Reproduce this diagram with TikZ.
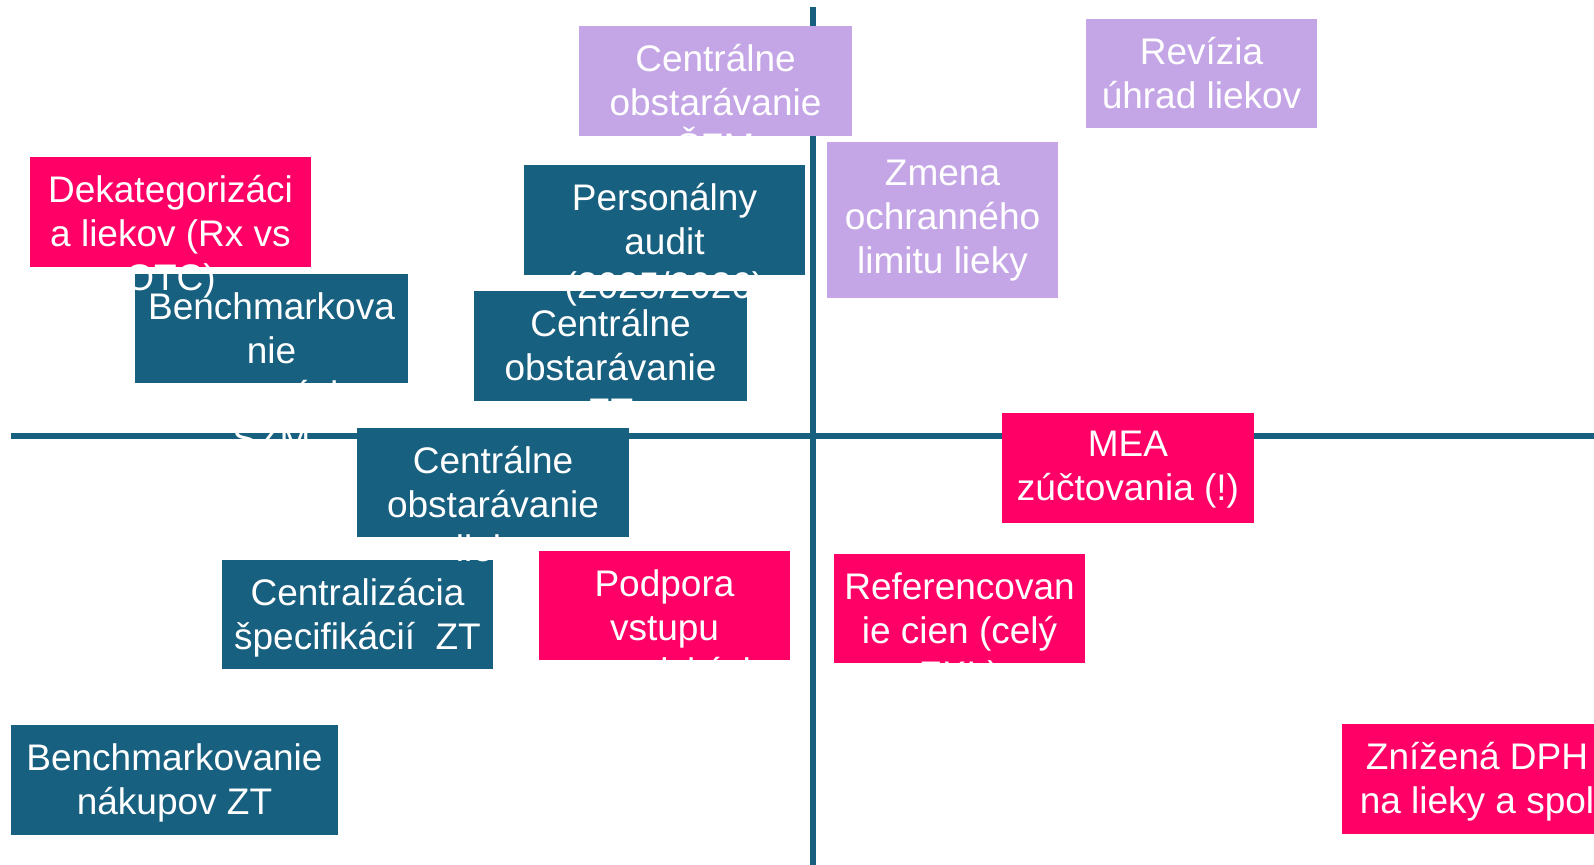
\documentclass[tikz,border=0pt]{standalone}
\usepackage{fontspec}
\setmainfont{Liberation Sans}
\usetikzlibrary{positioning}
\definecolor{quadpink}{RGB}{255,0,102}
\definecolor{quadblue}{RGB}{24,96,128}
\definecolor{quadlilac}{RGB}{196,166,230}

\begin{document}
\begin{tikzpicture}[x=0.5pt,y=-0.5pt]
	\tikzset{
		tile/.style={anchor=north west, inner sep=0pt, outer sep=0pt,
				minimum width=136.5pt, minimum height=55pt},
		tile text/.style={inner sep=0pt, align=center, text=white,
				font=\fontsize{18.5}{22}\selectfont, execute at begin node=\strut},
		axis line/.style={quadblue, line width=3pt},
	}
	\useasboundingbox (0,0) rectangle (1594,865);
	%
	% axes
	\coordinate (top) at (813,7);
	\coordinate (bottom) at (813,865);
	\coordinate (left) at (11,436);
	\coordinate (right) at (1594,436);
	\draw[axis line] (top) -- (bottom);
	\draw[axis line] (left) -- (right);
	%
	\node[tile, fill=quadlilac, minimum width=115.5pt, minimum height=54.5pt] at (1086,19) (reviz) {};
	\node[tile text, below=9pt of reviz.north] (reviz-t) {Revízia\\úhrad liekov};
	\node[tile, fill=quadlilac, minimum width=115.5pt, minimum height=78pt] at (827,142) (zmena) {};
	\node[tile text, below=9pt of zmena.north] (zmena-t) {Zmena\\ochranného\\limitu lieky};
	\node[tile, fill=quadlilac] at (579,26) (szm) {};
	\node[tile text, below=9pt of szm.north] (szm-t) {Centrálne\\obstarávanie\\ŠZM};
	%
	\node[tile, fill=quadblue, minimum height=54.5pt] at (135,274) (bench) {};
	\node[tile text, below=9pt of bench.north] (bench-t) {Benchmarkova\\nie\\ostatných\\ŠZM};
	\node[tile, fill=quadpink, minimum width=140.5pt] at (30,157) (dekat) {};
	\node[tile text, below=9pt of dekat.north] (dekat-t) {Dekategorizáci\\a liekov (Rx vs\\OTC)};
	\node[tile, fill=quadblue] at (474,291) (ztobst) {};
	\node[tile text, below=9pt of ztobst.north] (ztobst-t) {Centrálne\\obstarávanie\\ZT};
	\node[tile, fill=quadblue, minimum width=140.5pt] at (524,165) (perso) {};
	\node[tile text, below=9pt of perso.north] (perso-t) {Personálny\\audit\\(2025/2026)};
	\node[tile, fill=quadblue, minimum width=135.5pt, minimum height=54.5pt] at (222,560) (central) {};
	\node[tile text, below=9pt of central.north] (central-t) {Centralizácia\\špecifikácií~~ZT};
	\node[tile, fill=quadblue, minimum width=136pt, minimum height=54.5pt] at (357,428) (liekobst) {};
	\node[tile text, below=9pt of liekobst.north] (liekobst-t) {Centrálne\\obstarávanie\\lieky};
	%
	\node[tile, fill=quadpink, minimum width=125.5pt, minimum height=54.5pt] at (539,551) (podpora) {};
	\node[tile text, below=9pt of podpora.north] (podpora-t) {Podpora\\vstupu\\generických};
	\node[tile, fill=quadpink, minimum width=126pt] at (1002,413) (mea) {};
	\node[tile text, below=9pt of mea.north] (mea-t) {MEA\\zúčtovania (!)};
	\node[tile, fill=quadpink, minimum width=125.5pt, minimum height=54.5pt] at (834,554) (refer) {};
	\node[tile text, below=9pt of refer.north] (refer-t) {Referencovan\\ie cien (celý\\ZKL)};
	%
	\node[tile, fill=quadblue, minimum width=163.5pt] at (11,725) (benchzt) {};
	\node[tile text, below=9pt of benchzt.north] (benchzt-t) {Benchmarkovanie\\nákupov ZT};
	\node[tile, fill=quadpink, minimum width=135pt] at (1342,724) (dph) {};
	\node[tile text, below=9pt of dph.north] (dph-t) {Znížená DPH\\na lieky a spol};
\end{tikzpicture}
\end{document}
